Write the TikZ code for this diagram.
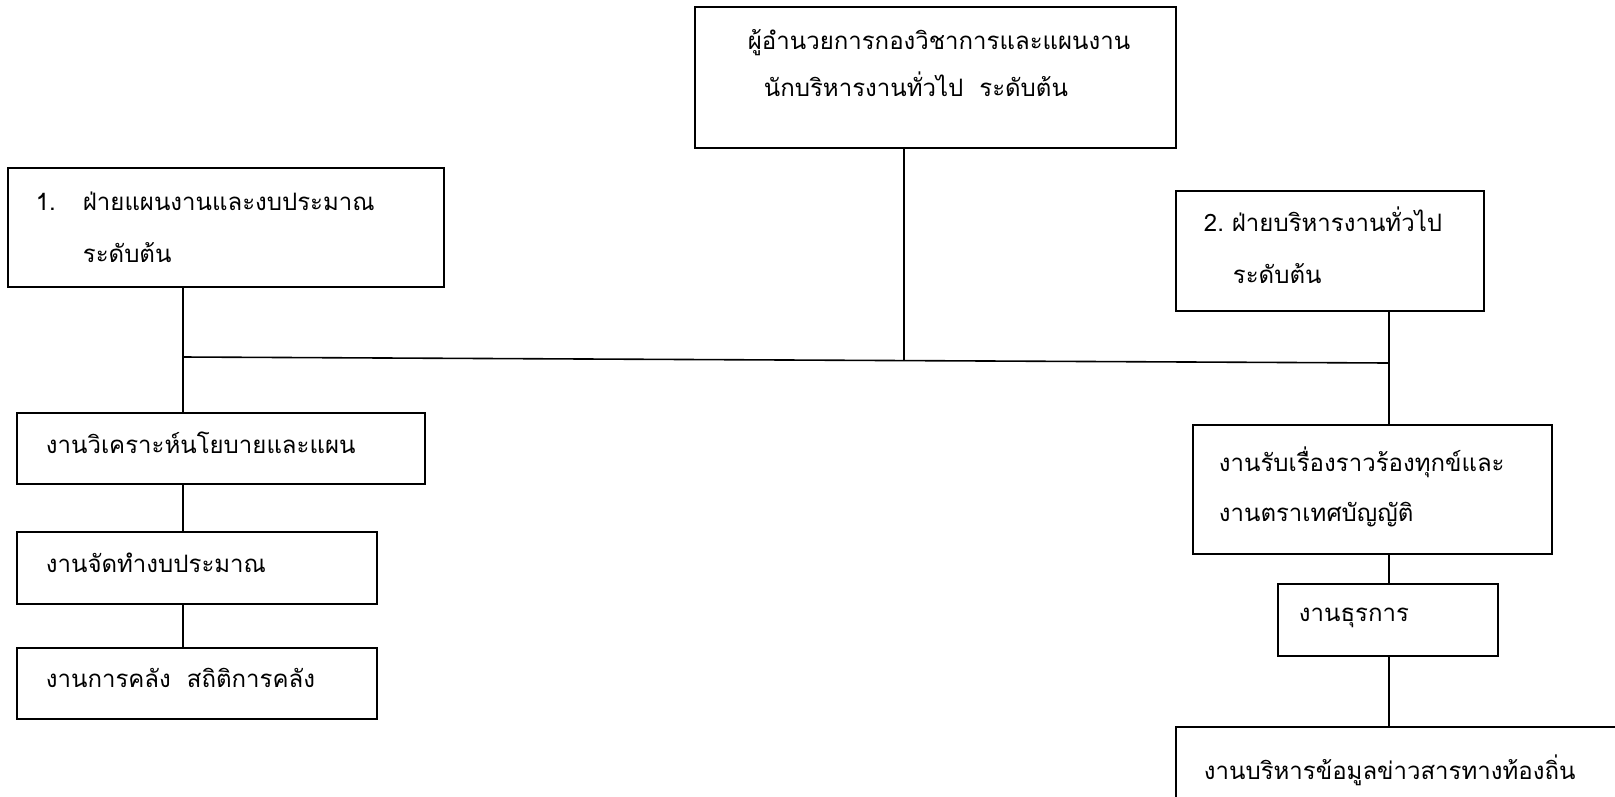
\documentclass[tikz,border=0pt]{standalone}
\usepackage{fontspec}
\newfontfamily\thaifont[Script=Thai]{Loma}
\usetikzlibrary{calc}

\begin{document}
\begin{tikzpicture}
[x=1pt,y=-1pt,
  lineDecorate/.style={-,line width=1.6pt},%
  boxDecorate/.style={draw,line width=1.8pt,anchor=north west,align=left,
    inner ysep=0pt,font=\thaifont\fontsize{24}{52}\selectfont,
    execute at end node={\rule[-11pt]{0pt}{0pt}}}]
\useasboundingbox (0,0) rectangle (1615,796);
%% top box
\node (dir) at (694,6) [boxDecorate,minimum width=481,minimum height=141,
  inner xsep=53,text width=375]
  {ผู้อำนวยการกองวิชาการและแผนงาน\\[-5pt]\hspace*{16pt}นักบริหารงานทั่วไป\ \ ระดับต้น\rule[-28pt]{0pt}{0pt}};
%% left branch
\node (plan) at (7,167) [boxDecorate,minimum width=436,minimum height=119,
  inner xsep=28,text width=380]
  {\rule{0pt}{30pt}\makebox[47pt][l]{1.}ฝ่ายแผนงานและงบประมาณ\\\hspace*{47pt}ระดับต้น};
\node (polA) at (16,412) [boxDecorate,minimum width=408,minimum height=71,
  inner xsep=29,text width=350] {งานวิเคราะห์นโยบายและแผน};
\node (budB) at (16,531) [boxDecorate,minimum width=360,minimum height=72,
  inner xsep=29,text width=302] {งานจัดทำงบประมาณ};
\node (fisC) at (16,647) [boxDecorate,minimum width=360,minimum height=71,
  inner xsep=29,text width=302] {งานการคลัง\ \ สถิติการคลัง};
%% right branch
\node (adm) at (1175,190) [boxDecorate,minimum width=308,minimum height=120,
  inner xsep=20,text width=268]
  {\hspace*{8pt}2.~ฝ่ายบริหารงานทั่วไป\\\hspace*{37pt}ระดับต้น};
\node (cmp) at (1192,424) [boxDecorate,minimum width=359,minimum height=129,
  inner xsep=26,text width=307]
  {งานรับเรื่องราวร้องทุกข์และ\\[-2pt]งานตราเทศบัญญัติ};
\node (clk) at (1277,583) [boxDecorate,minimum width=220,minimum height=72,
  inner xsep=21,text width=178] {งานธุรการ};
\node (info) at (1175,726) [boxDecorate,minimum width=480,minimum height=92,
  inner xsep=28,text width=424] {งานบริหารข้อมูลข่าวสารทางท้องถิ่น};
%% bus line
\coordinate (busL) at (183,357);
\coordinate (busR) at (1389,363);
\coordinate (busM) at (904,360.5);
\draw[lineDecorate] (busL) -- (busR);
\draw[lineDecorate] (dir.south -| busM) -- (busM);
%% edges
\foreach \startnode/\endnode in {plan/polA, polA/budB, budB/fisC}
{
  \draw[lineDecorate] (\startnode.south -| busL) -- (\endnode.north -| busL);
}
\foreach \startnode/\endnode in {adm/cmp, cmp/clk, clk/info}
{
  \draw[lineDecorate] (\startnode.south -| busR) -- (\endnode.north -| busR);
}
\end{tikzpicture}
\end{document}
